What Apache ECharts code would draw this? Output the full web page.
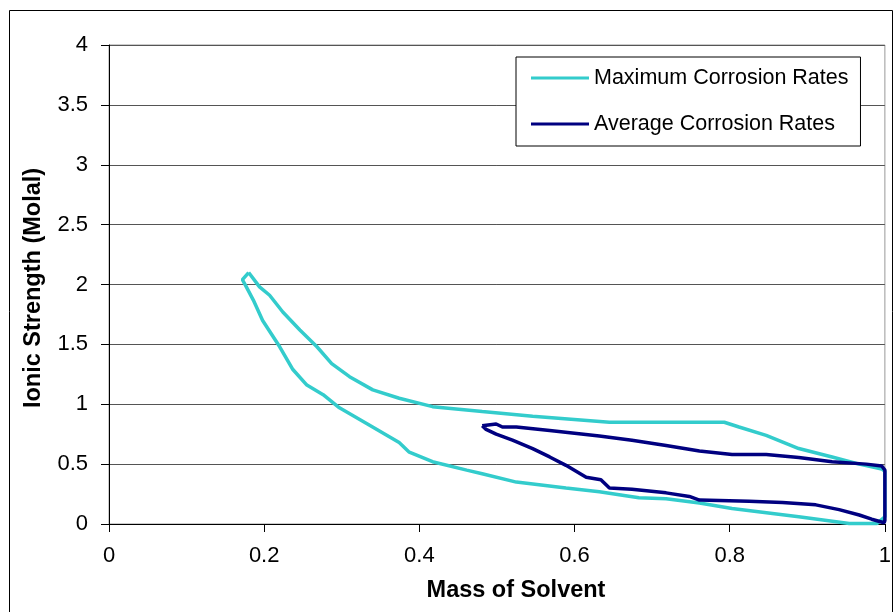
<!DOCTYPE html>
<html>
<head>
<meta charset="utf-8">
<script src="https://cdn.jsdelivr.net/npm/echarts@6/dist/echarts.min.js"></script>
<style>html,body{margin:0;padding:0;background:#fff}#c{width:894px;height:612px}</style>
</head>
<body>
<div id="c"></div>
<script>
var seriesNames = ['Maximum Corrosion Rates', 'Average Corrosion Rates'];
var xTicks = [0, 0.2, 0.4, 0.6, 0.8, 1];
var yTicks = [0, 0.5, 1, 1.5, 2, 2.5, 3, 3.5, 4];
var xTitle = 'Mass of Solvent';
var yTitle = 'Ionic Strength (Molal)';

var maxRates = [
  [0.180, 2.10], [0.194, 1.98], [0.207, 1.91], [0.224, 1.77], [0.246, 1.62],
  [0.268, 1.48], [0.287, 1.34], [0.310, 1.23], [0.340, 1.12], [0.374, 1.05],
  [0.417, 0.98], [0.481, 0.94], [0.546, 0.90], [0.645, 0.85], [0.793, 0.85],
  [0.812, 0.81], [0.847, 0.74], [0.889, 0.63], [0.932, 0.56], [0.967, 0.50],
  [0.996, 0.46], [1.000, 0.44], [1.000, 0.06], [0.990, 0.005], [0.954, 0.005],
  [0.889, 0.06], [0.803, 0.13], [0.761, 0.175], [0.718, 0.21], [0.683, 0.22],
  [0.632, 0.27], [0.589, 0.30], [0.525, 0.35], [0.481, 0.42], [0.461, 0.45],
  [0.417, 0.52], [0.387, 0.60], [0.374, 0.68], [0.332, 0.84], [0.297, 0.97],
  [0.276, 1.08], [0.255, 1.16], [0.237, 1.29], [0.220, 1.48], [0.198, 1.70],
  [0.186, 1.87], [0.177, 1.98], [0.172, 2.04], [0.180, 2.10]
];

var avgRates = [
  [0.481, 0.82], [0.499, 0.835], [0.507, 0.81], [0.525, 0.81], [0.568, 0.78],
  [0.632, 0.735], [0.674, 0.70], [0.718, 0.655], [0.761, 0.61], [0.803, 0.58],
  [0.847, 0.58], [0.889, 0.555], [0.932, 0.52], [0.976, 0.50], [0.996, 0.485],
  [1.000, 0.45], [1.000, 0.03], [0.999, 0.01], [0.983, 0.04], [0.967, 0.075],
  [0.941, 0.12], [0.911, 0.16], [0.868, 0.18], [0.825, 0.19], [0.761, 0.20],
  [0.748, 0.23], [0.718, 0.26], [0.674, 0.29], [0.645, 0.30], [0.634, 0.37],
  [0.615, 0.39], [0.589, 0.49], [0.568, 0.56], [0.546, 0.63], [0.520, 0.70],
  [0.499, 0.75], [0.486, 0.79], [0.481, 0.82]
];

var colors = ['#33CCCC', '#000080'];
var FONT = 'Liberation Sans, Arial, sans-serif';

var chart = echarts.init(document.getElementById('c'));
chart.setOption({
  animation: false,
  backgroundColor: '#fff',
  grid: {
    left: 109, top: 45, right: 8, bottom: 88,
    show: true, borderColor: '#999', borderWidth: 1
  },
  legend: {
    orient: 'vertical',
    left: 516, top: 57,
    padding: [10, 12, 11, 15],
    itemWidth: 58, itemHeight: 3,
    itemGap: 24,
    itemTextGap: 6,
    icon: 'rect',
    backgroundColor: '#fff',
    borderColor: '#000', borderWidth: 1,
    textStyle: { fontFamily: FONT, fontSize: 21.5, color: '#000', lineHeight: 21 },
    data: seriesNames
  },
  xAxis: {
    type: 'value', min: xTicks[0], max: xTicks[xTicks.length - 1], interval: 0.2,
    axisLine: { show: true, onZero: false, lineStyle: { color: '#000', width: 1 } },
    axisTick: { show: true, inside: false, length: 8, lineStyle: { color: '#000' } },
    splitLine: { show: false },
    axisLabel: { fontFamily: FONT, fontSize: 22, color: '#000', margin: 21,
      formatter: function (v) { return String(+v.toFixed(1)); } }
  },
  yAxis: {
    type: 'value', min: yTicks[0], max: yTicks[yTicks.length - 1], interval: 0.5,
    axisLine: { show: true, onZero: false, lineStyle: { color: '#000', width: 1 } },
    axisTick: { show: true, inside: false, length: 8, lineStyle: { color: '#000' } },
    splitLine: { show: true, lineStyle: { color: '#555', width: 1 } },
    axisLabel: { fontFamily: FONT, fontSize: 22, color: '#000', margin: 21,
      formatter: function (v) { return String(+v.toFixed(1)); } }
  },
  graphic: [
    { type: 'rect', silent: true, z: -1,
      shape: { x: 9.5, y: 10.5, width: 883, height: 640 },
      style: { fill: 'none', stroke: '#000', lineWidth: 1 } },
    { type: 'text', x: 516, y: 591, silent: true,
      style: { text: xTitle, font: 'bold 23.5px ' + FONT, fill: '#000',
        textAlign: 'center', textVerticalAlign: 'middle' } },
    { type: 'text', x: 34, y: 288, rotation: Math.PI / 2, silent: true,
      style: { text: yTitle, font: 'bold 23.5px ' + FONT, fill: '#000',
        textAlign: 'center', textVerticalAlign: 'middle' } }
  ],
  series: [
    { name: seriesNames[0], type: 'line', data: maxRates, showSymbol: false, symbol: 'none',
      clip: false, smooth: false, color: colors[0], z: 3,
      lineStyle: { color: colors[0], width: 3.5 } },
    { name: seriesNames[1], type: 'line', data: avgRates, showSymbol: false, symbol: 'none',
      clip: false, smooth: false, color: colors[1], z: 4,
      lineStyle: { color: colors[1], width: 3.5 } }
  ]
});
</script>
</body>
</html>
